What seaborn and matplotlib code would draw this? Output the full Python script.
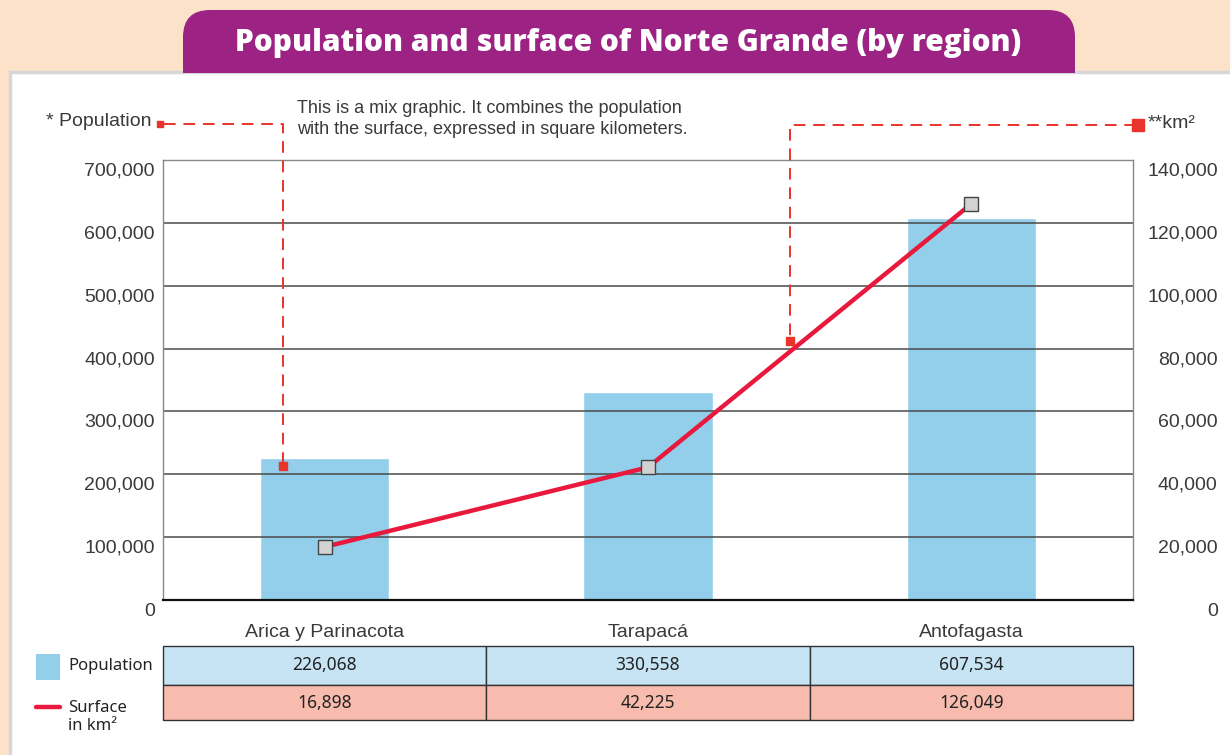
import numpy as np
import pandas as pd
import seaborn as sns
import matplotlib.pyplot as plt
from matplotlib.patches import Rectangle, FancyBboxPatch
from matplotlib.lines import Line2D
from matplotlib.transforms import ScaledTranslation, blended_transform_factory

sns.set_style("white")
plt.rcParams['font.family'] = ['Liberation Sans', 'DejaVu Sans']

## data
regions = ["Arica y Parinacota", "Tarapacá", "Antofagasta"]
population = [226068, 330558, 607534]
surface_km2 = [16898, 42225, 126049]
pop_ticks = [0, 100000, 200000, 300000, 400000, 500000, 600000, 700000]
km_ticks = [0, 20000, 40000, 60000, 80000, 100000, 120000, 140000]

title = "Population and surface of Norte Grande (by region)"
note = "This is a mix graphic. It combines the population\nwith the surface, expressed in square kilometers."

W, H = 1230, 755
peach = "#fde2ca"
purple = "#9c2283"
bar_blue = "#93cfea"
line_red = "#e8193c"
dash_red = "#e8342b"
txt = "#3a3a3a"

def fx(x):
    return x / W

def fy(y):
    return 1 - y / H

fig = plt.figure(figsize=(12.3, 7.55), dpi=100)
fig.patch.set_facecolor(peach)

# white panel + title banner
fig.add_artist(Rectangle((fx(10), fy(780)), fx(1240), 708 / H, transform=fig.transFigure,
                         facecolor="white", edgecolor="#d6d6d6", lw=2.5, zorder=-2))
fig.add_artist(FancyBboxPatch((fx(183), fy(72)), fx(892), 62 / H, transform=fig.transFigure,
                              boxstyle="round,pad=0,rounding_size=0.022", mutation_aspect=1.63,
                              facecolor=purple, edgecolor="none", zorder=-1))
fig.add_artist(Rectangle((fx(183), fy(73)), fx(892), 30 / H, transform=fig.transFigure,
                         facecolor=purple, edgecolor="none", zorder=-1))
fig.text(fx(628), fy(43), title, color="white", fontsize=21.5, fontweight=800,
         family=["Open Sans", "DejaVu Sans"], ha="center", va="center")

ax = fig.add_axes([fx(163), fy(600), fx(970), 440 / H])
ax.patch.set_alpha(0)
df = pd.DataFrame({"region": regions, "population": population})
sns.barplot(data=df, x="region", y="population", color=bar_blue, saturation=1,
            width=0.4, ax=ax, zorder=1)
ax.set_xlim(-0.5, 2.5)
ax.set_ylim(0, 700000)
ax.set_xlabel("")
ax.set_ylabel("")
ax.set_yticks(pop_ticks, [f"{v:,}" for v in pop_ticks])
ax.tick_params(axis="y", length=0, pad=6, labelsize=14, labelcolor=txt)
ax.tick_params(axis="x", length=0, pad=17, labelsize=14, labelcolor=txt)
for v in pop_ticks[1:]:
    ax.axhline(v, color="#4a4a4a", lw=1.1, zorder=2)
for s in ["left", "right", "top"]:
    ax.spines[s].set_color("#888888")
    ax.spines[s].set_linewidth(1)
ax.spines["bottom"].set_color("#111111")
ax.spines["bottom"].set_linewidth(1.6)

ax2 = ax.twinx()
sns.lineplot(x=np.arange(len(regions)), y=surface_km2, ax=ax2, color=line_red, lw=3.2,
             marker="s", markersize=10, markerfacecolor="#d2d2d2", markeredgecolor="#444444",
             markeredgewidth=1)
ax2.set_ylim(0, 140000)
ax2.set_yticks(km_ticks, [f"{v:,}" for v in km_ticks])
ax2.tick_params(axis="y", length=0, pad=61, labelsize=14, labelcolor=txt)
ax2.grid(False)
for s in ["left", "right", "top", "bottom"]:
    ax2.spines[s].set_visible(False)
for lbl in ax2.get_yticklabels():
    lbl.set_horizontalalignment("right")

down = ScaledTranslation(0, -0.09, fig.dpi_scale_trans)
for lbl in ax.get_yticklabels() + ax2.get_yticklabels():
    lbl.set_transform(lbl.get_transform() + down)

# callouts
dash = dict(color=dash_red, lw=1.4, linestyle=(0, (6, 4)), transform=fig.transFigure)
fig.add_artist(Line2D([fx(164), fx(283), fx(283)], [fy(124), fy(124), fy(466)], **dash))
fig.add_artist(Line2D([fx(1136), fx(790), fx(790)], [fy(125), fy(125), fy(340)], **dash))
sq = dict(marker="s", color=dash_red, linestyle="none", transform=fig.transFigure)
fig.add_artist(Line2D([fx(160)], [fy(124)], markersize=5, **sq))
fig.add_artist(Line2D([fx(283)], [fy(466)], markersize=5.5, **sq))
fig.add_artist(Line2D([fx(790)], [fy(341)], markersize=5.5, **sq))
fig.add_artist(Line2D([fx(1138)], [fy(125)], markersize=9, **sq))
fig.text(fx(152), fy(122), "* Population", fontsize=14, color=txt, ha="right", va="center")
fig.text(fx(1148), fy(123), "**km²", fontsize=14, color=txt, ha="left", va="center")
fig.text(fx(297), fy(119), note, fontsize=13, color=txt, ha="left", va="center",
         family=["Liberation Sans Narrow", "Liberation Sans"], linespacing=1.3)

# data table under the chart
tr = blended_transform_factory(ax.transData, fig.transFigure)
rows = [(population, "#c6e4f4", 646, 685), (surface_km2, "#f8bcae", 685, 720)]
for vals, col, y0, y1 in rows:
    for i, v in enumerate(vals):
        fig.add_artist(Rectangle((i - 0.5, fy(y1)), 1, (y1 - y0) / H, transform=tr,
                                 facecolor=col, edgecolor="#333333", lw=1))
        fig.text(i, fy((y0 + y1) / 2), f"{v:,}", transform=tr, ha="center", va="center",
                 fontsize=12.5, color="#222222", family=["Noto Sans", "DejaVu Sans"])

# legend
fig.add_artist(Rectangle((fx(36), fy(680)), fx(24), 26 / H, transform=fig.transFigure,
                         facecolor=bar_blue, edgecolor="none"))
fig.text(fx(68), fy(666), "Population", fontsize=12, color="#222222", va="center",
         family=["Noto Sans", "DejaVu Sans"])
fig.add_artist(Line2D([fx(36), fx(60)], [fy(707), fy(707)], color=line_red, lw=3.2,
                      transform=fig.transFigure))
fig.text(fx(68), fy(717), "Surface\nin km²", fontsize=12, color="#222222", va="center",
         family=["Noto Sans", "DejaVu Sans"], linespacing=1.25)

plt.savefig("out.png", dpi=100, facecolor=fig.get_facecolor())
